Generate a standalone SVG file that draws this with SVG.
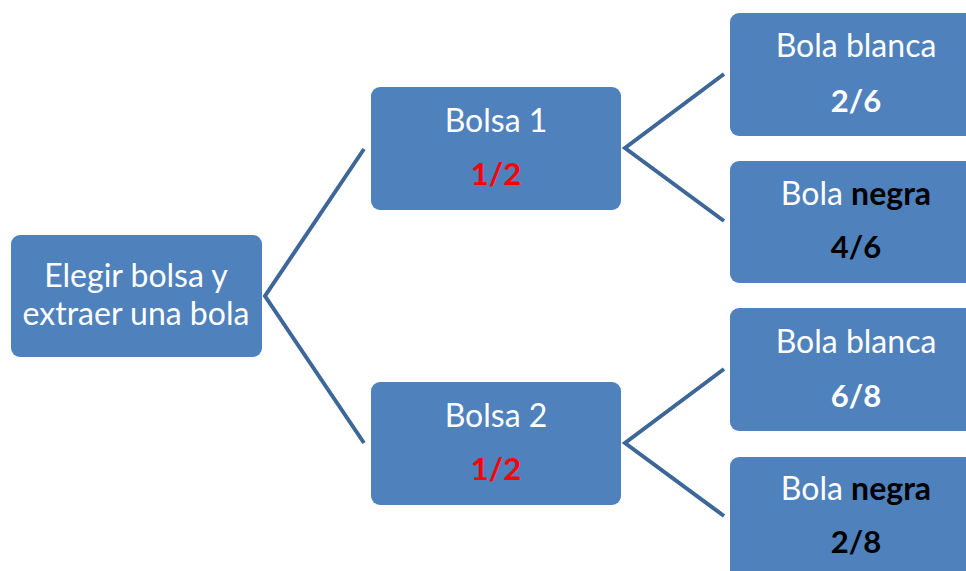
<svg xmlns="http://www.w3.org/2000/svg" width="966" height="571" viewBox="0 0 966 571">
<style>
.box{fill:#4F81BD;}
.t{font-family:Lato,"Open Sans","Noto Sans",sans-serif;font-size:32px;fill:#FFFFFF;text-anchor:middle;}
.f{font-size:31px;}
.b{font-weight:bold;}
.red{fill:#FF0000;}
.blk{fill:#000000;}
.c{stroke:#3D6799;stroke-width:4;fill:none;stroke-linejoin:miter;}
</style>
<rect width="966" height="571" fill="#FFFFFF"/>
<g id="connectors">
<polyline class="c" points="364,149 265,296 364,443"/>
<polyline class="c" points="724,74 625,148 724,221"/>
<polyline class="c" points="724,369 625,443 724,516"/>
</g>
<g id="root">
<rect class="box" x="11" y="235" width="251" height="122" rx="9"/>
<text class="t" x="136" y="287">Elegir bolsa y</text>
<text class="t" x="136" y="325">extraer una bola</text>
</g>
<g id="bolsa1">
<rect class="box" x="371" y="87" width="250" height="123" rx="9"/>
<text class="t" x="496" y="132">Bolsa 1</text>
<text class="t f b red" x="496" y="185">1/2</text>
</g>
<g id="bolsa2">
<rect class="box" x="371" y="382" width="250" height="123" rx="9"/>
<text class="t" x="496" y="427">Bolsa 2</text>
<text class="t f b red" x="496" y="480">1/2</text>
</g>
<g id="leaf1">
<rect class="box" x="730" y="13" width="260" height="123" rx="9"/>
<text class="t" x="856" y="57">Bola blanca</text>
<text class="t f b" x="856" y="112">2/6</text>
</g>
<g id="leaf2">
<rect class="box" x="730" y="161" width="260" height="122" rx="9"/>
<text class="t" x="856" y="205">Bola <tspan class="b blk">negra</tspan></text>
<text class="t f b blk" x="856" y="258">4/6</text>
</g>
<g id="leaf3">
<rect class="box" x="730" y="308" width="260" height="123" rx="9"/>
<text class="t" x="856" y="353">Bola blanca</text>
<text class="t f b" x="856" y="407">6/8</text>
</g>
<g id="leaf4">
<rect class="box" x="730" y="457" width="260" height="130" rx="9"/>
<text class="t" x="856" y="500">Bola <tspan class="b blk">negra</tspan></text>
<text class="t f b blk" x="856" y="553">2/8</text>
</g>
</svg>
